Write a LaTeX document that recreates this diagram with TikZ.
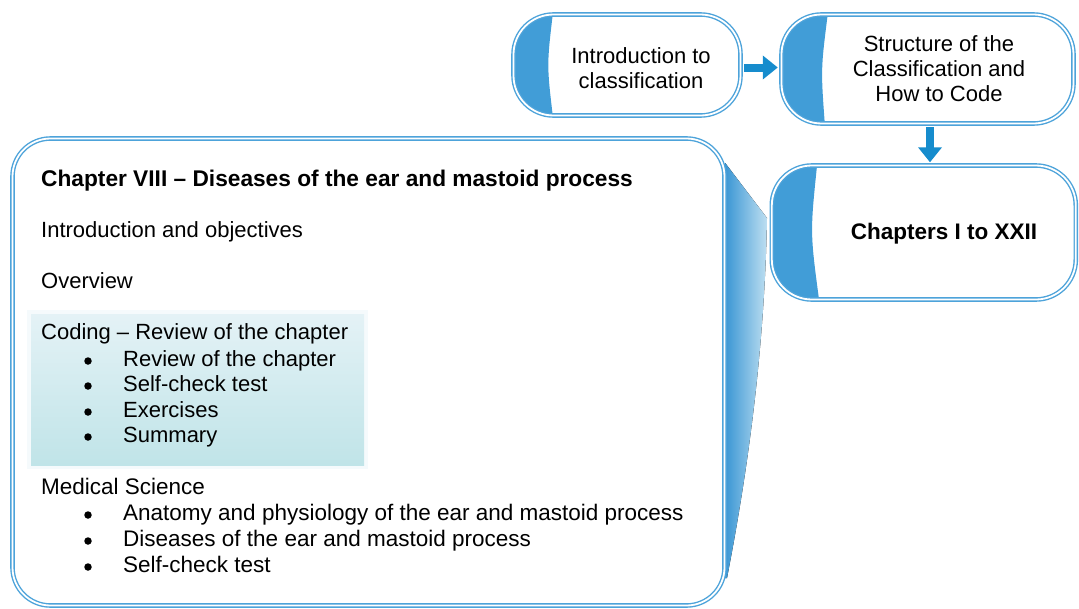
\documentclass[tikz,border=0pt]{standalone}
\usepackage{fontspec}
\setmainfont{Liberation Sans}
\usetikzlibrary{
    arrows.meta,
    backgrounds,
}

\definecolor{rim}{RGB}{77,163,218}
\definecolor{tab}{RGB}{65,157,215}
\definecolor{flowblue}{RGB}{22,140,205}
\definecolor{wedgedark}{RGB}{58,150,212}
\definecolor{wedgelight}{RGB}{190,223,241}
\definecolor{hitop}{RGB}{228,242,246}
\definecolor{hibot}{RGB}{192,228,232}

\tikzset{
  frame/.style={draw=rim, double=white, line width=1.4pt, double distance=1.8pt,
                rounded corners=40pt, inner sep=0pt},
  steptext/.style={align=center, inner sep=0pt, font=\fontsize{22}{25}\selectfont},
  flow/.style={flowblue, line width=8pt, -{Triangle[width=23pt,length=15pt]}},
  entry/.style={anchor=base west, inner sep=0pt, font=\fontsize{22}{24}\selectfont},
  bulletmark/.style={circle, fill=black, inner sep=0pt, minimum size=7.5pt},
}

\begin{document}
\begin{tikzpicture}[x=1pt, y=-1pt]
  \useasboundingbox (0,0) rectangle (1079,608);

  % the three steps
  \node[frame, minimum width=227pt, minimum height=101pt] (intro)    at (627,65)      {};
  \node[frame, minimum width=292pt, minimum height=109pt] (struct)   at (927.5,69)    {};
  \node[frame, minimum width=304pt, minimum height=134pt] (chapters) at (923.8,232.5) {};

  \node[steptext] (introtext)    at (641,68)  {Introduction to\\classification};
  \node[steptext] (structtext)   at (939,69)  {Structure of the\\Classification and\\How to Code};
  \node[steptext, font=\fontsize{22.5}{25}\selectfont\bfseries]
                  (chapterstext) at (944,234) {Chapters I to XXII};

  % the chapter in detail
  \node[frame, rounded corners=38pt, minimum width=712pt, minimum height=467pt] (chapter) at (368.5,372) {};

  \begin{scope}[on background layer]
    % blue tabs on the left of the steps
    \begin{scope}
      \clip[rounded corners=40pt] (intro.south west) rectangle (intro.north east);
      \fill[tab] (intro.north west) -- ([xshift=40pt]intro.north west)
        .. controls ([xshift=34pt]intro.west) .. ([xshift=40pt]intro.south west) -- (intro.south west) -- cycle;
    \end{scope}
    \begin{scope}
      \clip[rounded corners=40pt] (struct.south west) rectangle (struct.north east);
      \fill[tab] (struct.north west) -- ([xshift=47pt]struct.north west)
        .. controls ([xshift=40pt]struct.west) .. ([xshift=44pt]struct.south west) -- (struct.south west) -- cycle;
    \end{scope}
    \begin{scope}
      \clip[rounded corners=40pt] (chapters.south west) rectangle (chapters.north east);
      \fill[tab] (chapters.north west) -- ([xshift=46pt]chapters.north west)
        .. controls ([xshift=39pt]chapters.west) .. ([xshift=48pt]chapters.south west) -- (chapters.south west) -- cycle;
    \end{scope}

    % callout from the chapter box
    \fill[left color=wedgedark, right color=wedgelight]
      (chapter.east |- 0,163) -- (767,218) .. controls (765,330) and (752,450) .. (727,578)
      -- (chapter.east |- 0,578) -- cycle;

    % highlighted coding block
    \fill[hitop!60, opacity=0.6] (27,310) rectangle (368,469);
    \fill[top color=hitop, bottom color=hibot] (31,314) rectangle (364,465);
  \end{scope}

  \draw[flow, shorten <=3pt, shorten >=3pt] ([yshift=-2.5pt]intro.east) -- ([yshift=-2.5pt]intro.east -| struct.west);
  \draw[flow, shorten <=3pt, shorten >=2.5pt] ([xshift=2.5pt]struct.south) -- ([xshift=2.5pt]struct.south |- chapters.north);

  % contents of the chapter
  \node[entry, font=\fontsize{22.7}{24}\selectfont\bfseries] (title) at (41,186) {Chapter VIII – Diseases of the ear and mastoid process};
  \node[entry] (objectives) at (41,237) {Introduction and objectives};
  \node[entry] (overview)   at (41,288) {Overview};

  \node[entry] (coding)     at (41,339) {Coding – Review of the chapter};
  \node[bulletmark] (b1) at (88,361) {};  \node[entry] (review)  at (123,366) {Review of the chapter};
  \node[bulletmark] (b2) at (88,386) {};  \node[entry] (check)   at (123,391) {Self-check test};
  \node[bulletmark] (b3) at (88,412) {};  \node[entry] (exer)    at (123,417) {Exercises};
  \node[bulletmark] (b4) at (88,437) {};  \node[entry] (summary) at (123,442) {Summary};

  \begin{scope}[entry/.append style={font=\fontsize{22.5}{24}\selectfont}]
    \node[entry] (medical)  at (41,494) {Medical Science};
    \node[bulletmark] (b5) at (88,515) {};  \node[entry] (anatomy)  at (123,520) {Anatomy and physiology of the ear and mastoid process};
    \node[bulletmark] (b6) at (88,541) {};  \node[entry] (diseases) at (123,546) {Diseases of the ear and mastoid process};
    \node[bulletmark] (b7) at (88,567) {};  \node[entry] (check2)   at (123,572) {Self-check test};
  \end{scope}
\end{tikzpicture}
\end{document}
